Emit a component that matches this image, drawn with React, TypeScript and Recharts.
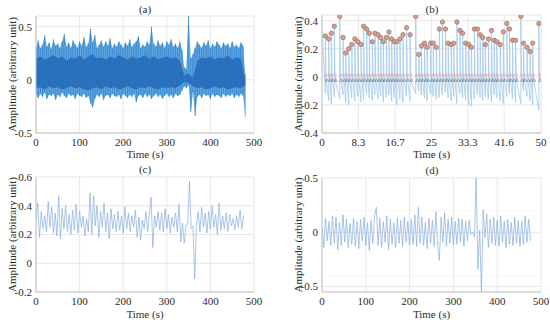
import React from 'react'
import {
  ComposedChart,
  Line,
  Area,
  Scatter,
  XAxis,
  YAxis,
  CartesianGrid,
} from 'recharts'

const FONT = '"Liberation Serif", "Times New Roman", serif'
const INK = '#2b2b2b'
const BOX = '#c4c4c4'
const GRID = '#e8e8e8'
const MINOR = '#f1f1f1'

// (a) raw recording: outer envelope every 5 s, dense core every 10 s
const timeA = [
  0, 5, 10, 15, 20, 25, 30, 35, 40, 45,
  50, 55, 60, 65, 70, 75, 80, 85, 90, 95,
  100, 105, 110, 115, 120, 125, 130, 135, 140, 145,
  150, 155, 160, 165, 170, 175, 180, 185, 190, 195,
  200, 205, 210, 215, 220, 225, 230, 235, 240, 245,
  250, 255, 260, 265, 270, 275, 280, 285, 290, 295,
  300, 305, 310, 315, 320, 325, 330, 335, 340, 345,
  350, 355, 360, 365, 370, 375, 380, 385, 390, 395,
  400, 405, 410, 415, 420, 425, 430, 435, 440, 445,
  450, 455, 460, 465, 470, 475, 480,
]
const rawHigh = [
  0.30, 0.37, 0.30, 0.33, 0.42, 0.31, 0.35, 0.29, 0.38, 0.32,
  0.34, 0.30, 0.36, 0.43, 0.31, 0.35, 0.30, 0.37, 0.33, 0.30,
  0.36, 0.32, 0.40, 0.31, 0.34, 0.48, 0.35, 0.42, 0.30, 0.33,
  0.37, 0.31, 0.36, 0.32, 0.39, 0.30, 0.34, 0.31, 0.36, 0.33,
  0.30, 0.35, 0.32, 0.38, 0.31, 0.34, 0.36, 0.41, 0.30, 0.33,
  0.31, 0.36, 0.33, 0.50, 0.34, 0.31, 0.37, 0.32, 0.35, 0.30,
  0.36, 0.33, 0.38, 0.31, 0.34, 0.30, 0.36, 0.28, 0.12, 0.10,
  0.60, 0.20, 0.24, 0.30, 0.36, 0.33, 0.30, 0.35, 0.32, 0.37,
  0.30, 0.34, 0.31, 0.36, 0.33, 0.30, 0.35, 0.32, 0.34, 0.30,
  0.36, 0.31, 0.33, 0.30, 0.35, 0.32, 0.05,
]
const rawLow = [
  -0.14, -0.17, -0.13, -0.16, -0.12, -0.18, -0.14, -0.15, -0.13, -0.19,
  -0.14, -0.16, -0.12, -0.15, -0.17, -0.13, -0.15, -0.14, -0.18, -0.13,
  -0.15, -0.16, -0.13, -0.17, -0.15, -0.22, -0.26, -0.18, -0.14, -0.16,
  -0.13, -0.19, -0.15, -0.14, -0.17, -0.13, -0.15, -0.16, -0.14, -0.18,
  -0.13, -0.15, -0.17, -0.14, -0.16, -0.13, -0.21, -0.15, -0.14, -0.17,
  -0.13, -0.16, -0.14, -0.18, -0.15, -0.13, -0.16, -0.14, -0.18, -0.15,
  -0.13, -0.16, -0.14, -0.17, -0.13, -0.15, -0.14, -0.10, -0.06, -0.08,
  -0.05, -0.30, -0.12, -0.34, -0.16, -0.14, -0.17, -0.13, -0.15, -0.14,
  -0.18, -0.13, -0.16, -0.14, -0.15, -0.17, -0.13, -0.16, -0.14, -0.15,
  -0.13, -0.17, -0.14, -0.16, -0.13, -0.15, -0.35,
]
const coreTime = [
  0, 10, 20, 30, 40, 50, 60, 70, 80, 90,
  100, 110, 120, 130, 140, 150, 160, 170, 180, 190,
  200, 210, 220, 230, 240, 250, 260, 270, 280, 290,
  300, 310, 320, 330, 340, 350, 360, 370, 380, 390,
  400, 410, 420, 430, 440, 450, 460, 470, 480,
]
const coreHigh = [
  0.20, 0.22, 0.19, 0.21, 0.23, 0.20, 0.22, 0.18, 0.21, 0.20,
  0.23, 0.19, 0.22, 0.24, 0.20, 0.21, 0.19, 0.22, 0.20, 0.23,
  0.21, 0.19, 0.22, 0.20, 0.21, 0.23, 0.20, 0.22, 0.19, 0.21,
  0.22, 0.20, 0.21, 0.18, 0.04, 0.06, 0.02, 0.18, 0.21, 0.20,
  0.22, 0.19, 0.21, 0.20, 0.23, 0.19, 0.21, 0.20, 0.00,
]
const coreLow = [
  -0.08, -0.07, -0.09, -0.06, -0.08, -0.07, -0.09, -0.08, -0.06, -0.08,
  -0.07, -0.09, -0.10, -0.08, -0.07, -0.09, -0.06, -0.08, -0.07, -0.09,
  -0.08, -0.06, -0.08, -0.09, -0.07, -0.08, -0.06, -0.08, -0.09, -0.07,
  -0.08, -0.07, -0.08, -0.05, -0.02, -0.03, -0.06, -0.08, -0.07, -0.09,
  -0.08, -0.06, -0.08, -0.07, -0.09, -0.08, -0.07, -0.08, -0.05,
]

// (b) first 50 s: beat times, detected peaks, and the low point before each rise
const beatTime = [
  0.76, 1.53, 2.14, 2.82, 4.05, 4.81, 5.42, 6.1, 6.8, 7.5,
  8.2, 8.9, 9.5, 10.2, 10.8, 11.5, 12.1, 12.8, 13.4, 14.0,
  14.7, 15.3, 15.9, 16.5, 17.1, 17.8, 18.5, 19.3, 20.1, 21.4,
  22.1, 22.7, 23.4, 24.0, 24.8, 25.4, 26.1, 26.8, 27.5, 28.2,
  28.8, 29.5, 30.1, 30.8, 31.5, 32.1, 32.8, 33.5, 34.1, 34.8,
  35.5, 36.1, 36.7, 37.3, 38.0, 38.7, 39.3, 39.9, 40.7, 41.4,
  42.2, 42.8, 43.5, 44.2, 45.4, 46.0, 46.8, 47.5, 48.1, 49.5,
]
const beatPeak = [
  0.29, 0.27, 0.31, 0.36, 0.43, 0.28, 0.17, 0.20, 0.23, 0.27,
  0.25, 0.23, 0.36, 0.34, 0.31, 0.25, 0.31, 0.30, 0.28, 0.25,
  0.28, 0.32, 0.27, 0.25, 0.25, 0.27, 0.30, 0.35, 0.30, 0.43,
  0.16, 0.22, 0.24, 0.21, 0.24, 0.24, 0.21, 0.34, 0.39, 0.34,
  0.24, 0.23, 0.24, 0.39, 0.33, 0.31, 0.24, 0.23, 0.21, 0.34,
  0.34, 0.30, 0.28, 0.23, 0.27, 0.33, 0.26, 0.25, 0.23, 0.32,
  0.38, 0.34, 0.26, 0.26, 0.43, 0.24, 0.21, 0.18, 0.24, 0.38,
]
const beatTrough = [
  -0.12, -0.17, -0.19, -0.14, -0.16, -0.13, -0.18, -0.20, -0.15, -0.17,
  -0.14, -0.18, -0.16, -0.12, -0.15, -0.17, -0.13, -0.16, -0.14, -0.18,
  -0.15, -0.13, -0.17, -0.15, -0.20, -0.16, -0.18, -0.14, -0.17, -0.12,
  -0.10, -0.13, -0.15, -0.17, -0.12, -0.14, -0.16, -0.15, -0.13, -0.11,
  -0.15, -0.17, -0.14, -0.19, -0.12, -0.15, -0.17, -0.20, -0.21, -0.16,
  -0.13, -0.15, -0.17, -0.14, -0.16, -0.18, -0.13, -0.15, -0.17, -0.19,
  -0.14, -0.12, -0.16, -0.18, -0.19, -0.10, -0.14, -0.17, -0.20, -0.24,
]
const startValue = 0.34
const onsetLevel = 0.012
const footLevel = -0.024

// (c) filtered and (d) detrended, every 4 s
const timeCD = [
  0, 4, 8, 12, 16, 20, 24, 28, 32, 36,
  40, 44, 48, 52, 56, 60, 64, 68, 72, 76,
  80, 84, 88, 92, 96, 100, 104, 108, 112, 116,
  120, 124, 128, 132, 136, 140, 144, 148, 152, 156,
  160, 164, 168, 172, 176, 180, 184, 188, 192, 196,
  200, 204, 208, 212, 216, 220, 224, 228, 232, 236,
  240, 244, 248, 252, 256, 260, 264, 268, 272, 276,
  280, 284, 288, 292, 296, 300, 304, 308, 312, 316,
  320, 324, 328, 332, 336, 340, 344, 348, 352, 356,
  360, 364, 368, 372, 376, 380, 384, 388, 392, 396,
  400, 404, 408, 412, 416, 420, 424, 428, 432, 436,
  440, 444, 448, 452, 456, 460, 464, 468, 472, 476,
]
const filtered = [
  0.30, 0.42, 0.18, 0.36, 0.24, 0.33, 0.22, 0.43, 0.25, 0.39,
  0.21, 0.35, 0.19, 0.47, 0.17, 0.38, 0.24, 0.40, 0.22, 0.34,
  0.20, 0.37, 0.23, 0.41, 0.21, 0.36, 0.25, 0.33, 0.19, 0.31,
  0.22, 0.49, 0.20, 0.47, 0.26, 0.40, 0.18, 0.36, 0.25, 0.42,
  0.22, 0.35, 0.17, 0.38, 0.24, 0.34, 0.22, 0.36, 0.23, 0.33,
  0.21, 0.39, 0.24, 0.35, 0.22, 0.33, 0.25, 0.37, 0.18, 0.32,
  0.16, 0.30, 0.24, 0.36, 0.22, 0.34, 0.46, 0.11, 0.33, 0.25,
  0.36, 0.23, 0.35, 0.22, 0.38, 0.24, 0.34, 0.21, 0.32, 0.25,
  0.35, 0.22, 0.41, 0.15, 0.28, 0.14, 0.26, 0.28, 0.57, 0.24,
  0.26, -0.11, 0.27, 0.36, 0.22, 0.39, 0.25, 0.35, 0.21, 0.36,
  0.24, 0.40, 0.25, 0.34, 0.20, 0.42, 0.23, 0.33, 0.24, 0.35,
  0.22, 0.34, 0.26, 0.31, 0.23, 0.33, 0.25, 0.37, 0.24, 0.33,
]
const detrended = [
  0.05, -0.14, 0.13, -0.08, 0.10, -0.12, 0.15, -0.10, 0.14, -0.16,
  0.09, -0.12, 0.16, -0.09, 0.12, -0.14, 0.08, -0.11, 0.13, -0.13,
  0.10, -0.15, 0.12, -0.08, 0.14, -0.12, 0.09, -0.17, 0.11, -0.10,
  0.15, 0.23, -0.12, 0.13, -0.14, 0.10, -0.09, 0.15, -0.16, 0.12,
  -0.11, 0.09, -0.14, 0.13, -0.10, 0.11, -0.13, 0.14, -0.09, 0.10,
  -0.12, 0.12, -0.11, 0.16, -0.13, 0.23, -0.10, 0.14, -0.12, 0.09,
  -0.15, 0.13, -0.10, 0.11, -0.13, 0.19, -0.12, -0.26, 0.14, -0.09,
  0.18, -0.13, 0.12, -0.10, 0.14, -0.12, 0.10, -0.11, 0.13, -0.09,
  0.12, -0.13, 0.10, -0.08, 0.11, -0.02, 0.00, -0.04, 0.50, -0.34,
  0.02, -0.55, 0.21, -0.05, 0.17, -0.14, 0.12, -0.10, 0.14, -0.12,
  0.11, -0.13, 0.15, -0.09, 0.10, -0.14, 0.12, -0.11, 0.09, -0.12,
  0.14, -0.10, 0.11, -0.13, 0.10, -0.11, 0.15, -0.09, 0.12, -0.08,
]

const secondsTicks = [0, 100, 200, 300, 400, 500]
const windowTicks = [0, 8.3, 16.7, 25, 33.3, 41.6, 50]
const minorSeconds = [
  0, 20, 40, 60, 80, 100, 120, 140, 160, 180, 200, 220, 240,
  260, 280, 300, 320, 340, 360, 380, 400, 420, 440, 460, 480, 500,
]
const minorWindow = [
  0, 1.66, 3.32, 4.98, 6.64, 8.3, 10.0, 11.7, 13.3, 15.0, 16.7, 18.4, 20.0,
  21.7, 23.3, 25, 26.7, 28.3, 30.0, 31.6, 33.3, 35.0, 36.6, 38.3, 40.0, 41.6,
  43.3, 45.0, 46.7, 48.3, 50,
]

const rawEnvelope = timeA.map((t, i) => ({ t, range: [rawLow[i], rawHigh[i]] }))
const rawCore = coreTime.map((t, i) => ({ t, range: [coreLow[i], coreHigh[i]] }))
const rawTrace = timeA.flatMap((t, i) => [
  { t, v: rawHigh[i] },
  { t, v: rawLow[i] },
])

const windowWave: { t: number; v: number }[] = [{ t: 0, v: startValue }]
beatTime.forEach((t, i) => {
  windowWave.push(
    { t, v: beatTrough[i] },
    { t, v: beatPeak[i] },
    { t: t + 0.15, v: onsetLevel },
    { t: t + 0.3, v: -0.04 },
  )
})
const peakPoints = beatTime.map((t, i) => ({ t, v: beatPeak[i] }))
const onsetPoints = beatTime.map((t) => ({ t: t + 0.22, v: onsetLevel }))
const footPoints = beatTime.map((t) => ({ t: t + 0.34, v: footLevel }))

const filteredData = timeCD.map((t, i) => ({ t, v: filtered[i] }))
const detrendedData = timeCD.map((t, i) => ({ t, v: detrended[i] }))

const textStyle = { fontSize: 11, fill: INK, fontFamily: FONT, stroke: 'none', fontWeight: 400 }

function frame(
  xDomain: [number, number],
  xTicks: number[],
  xMinor: number[],
  yDomain: [number, number],
  yTicks: number[],
  yMinor: number[],
  xHeight: number,
) {
  return [
    <XAxis
      key="xm"
      xAxisId="minor"
      type="number"
      domain={xDomain}
      ticks={xMinor}
      allowDataOverflow
      hide
    />,
    <YAxis
      key="ym"
      yAxisId="minor"
      type="number"
      domain={yDomain}
      ticks={yMinor}
      allowDataOverflow
      hide
    />,
    <CartesianGrid key="gm" xAxisId="minor" yAxisId="minor" stroke={MINOR} strokeDasharray="1 1" />,
    <CartesianGrid key="grid" stroke={GRID} />,
    <XAxis
      key="x"
      dataKey="t"
      type="number"
      domain={xDomain}
      ticks={xTicks}
      allowDataOverflow
      height={xHeight}
      tick={textStyle}
      tickSize={0}
      tickMargin={5}
      axisLine={{ stroke: BOX }}
      tickFormatter={(v: number) => `${v}`}
      label={{
        value: 'Time (s)',
        position: 'insideBottom',
        offset: 2,
        style: textStyle,
      }}
    />,
    <XAxis
      key="xt"
      xAxisId="top"
      orientation="top"
      type="number"
      domain={xDomain}
      height={0}
      tick={false}
      tickLine={false}
      axisLine={{ stroke: BOX }}
    />,
    <YAxis
      key="y"
      type="number"
      domain={yDomain}
      ticks={yTicks}
      allowDataOverflow
      width={30}
      tick={textStyle}
      tickSize={0}
      tickMargin={4}
      axisLine={{ stroke: BOX }}
      label={{
        value: 'Amplitude (arbitrary unit)',
        angle: -90,
        position: 'insideLeft',
        offset: 6,
        style: { ...textStyle, textAnchor: 'middle' },
      }}
    />,
    <YAxis
      key="yr"
      yAxisId="right"
      orientation="right"
      type="number"
      domain={yDomain}
      width={0}
      tick={false}
      tickLine={false}
      axisLine={{ stroke: BOX }}
    />,
  ]
}

function Title({ text, x, y }: { text: string; x: number; y: number }) {
  return (
    <div
      style={{
        position: 'absolute',
        left: x - 20,
        top: y - 7,
        width: 40,
        textAlign: 'center',
        font: `11px ${FONT}`,
        lineHeight: '14px',
        color: INK,
      }}
    >
      {text}
    </div>
  )
}

const dotShape = (fill: string, stroke: string, r: number) => (p: any) => (
  <circle cx={p.cx} cy={p.cy} r={r} fill={fill} stroke={stroke} strokeWidth={0.6} />
)
const triShape = (p: any) => (
  <path
    d={`M${p.cx},${p.cy - 1.6}L${p.cx + 1.5},${p.cy + 1.1}L${p.cx - 1.5},${p.cy + 1.1}Z`}
    fill="none"
    stroke="#666"
    strokeWidth={0.5}
  />
)

export default function App() {
  return (
    <div
      style={{
        position: 'absolute',
        left: 0,
        top: 0,
        width: 550,
        height: 320,
        background: '#fff',
        fontFamily: FONT,
      }}
    >
      <style>{`.recharts-text, .recharts-label { font-family: ${FONT} !important; font-weight: 400 !important; stroke: none !important; }`}</style>

      <div style={{ position: 'absolute', left: 0, top: 0 }}>
        <ComposedChart width={280} height={160} margin={{ top: 16, right: 26, left: 6, bottom: 0 }}>
          {frame([0, 500], secondsTicks, minorSeconds, [-0.5, 0.6], [-0.5, 0, 0.5], [-0.5, -0.4, -0.3, -0.2, -0.1, 0, 0.1, 0.2, 0.3, 0.4, 0.5, 0.6], 27)}
          <Area
            data={rawEnvelope}
            dataKey="range"
            type="linear"
            stroke="none"
            fill="#3f95d9"
            fillOpacity={0.8}
            isAnimationActive={false}
          />
          <Line
            data={rawTrace}
            dataKey="v"
            type="linear"
            stroke="#2f80cc"
            strokeWidth={0.5}
            dot={false}
            isAnimationActive={false}
          />
          <Area
            data={rawCore}
            dataKey="range"
            type="linear"
            stroke="none"
            fill="#1d5aa8"
            fillOpacity={0.85}
            isAnimationActive={false}
          />
        </ComposedChart>
      </div>

      <div style={{ position: 'absolute', left: 280, top: 0 }}>
        <ComposedChart width={270} height={160} margin={{ top: 15, right: 9, left: 12, bottom: 0 }}>
          {frame([0, 50], windowTicks, minorWindow, [-0.4, 0.44], [-0.4, -0.2, 0, 0.2, 0.4], [-0.4, -0.3, -0.2, -0.1, 0, 0.1, 0.2, 0.3, 0.4], 27)}
          <Line
            data={windowWave}
            dataKey="v"
            type="linear"
            stroke="#a3c9ec"
            strokeWidth={0.8}
            dot={false}
            isAnimationActive={false}
          />
          <Scatter data={onsetPoints} dataKey="v" shape={dotShape('none', '#e0a0a0', 1.2)} isAnimationActive={false} />
          <Scatter data={footPoints} dataKey="v" shape={triShape} isAnimationActive={false} />
          <Scatter data={peakPoints} dataKey="v" shape={dotShape('#e39a88', '#7a6a62', 2.2)} isAnimationActive={false} />
        </ComposedChart>
      </div>

      <div style={{ position: 'absolute', left: 0, top: 160 }}>
        <ComposedChart width={280} height={160} margin={{ top: 17, right: 26, left: 6, bottom: 0 }}>
          {frame([0, 500], secondsTicks, minorSeconds, [-0.2, 0.6], [-0.2, 0, 0.2, 0.4, 0.6], [-0.2, -0.1, 0, 0.1, 0.2, 0.3, 0.4, 0.5, 0.6], 28)}
          <Line
            data={filteredData}
            dataKey="v"
            type="linear"
            stroke="#86ade0"
            strokeWidth={0.7}
            dot={false}
            isAnimationActive={false}
          />
        </ComposedChart>
      </div>

      <div style={{ position: 'absolute', left: 280, top: 160 }}>
        <ComposedChart width={270} height={160} margin={{ top: 18, right: 9, left: 12, bottom: 0 }}>
          {frame([0, 500], secondsTicks, minorSeconds, [-0.55, 0.5], [-0.5, 0, 0.5], [-0.5, -0.4, -0.3, -0.2, -0.1, 0, 0.1, 0.2, 0.3, 0.4, 0.5], 28)}
          <Line
            data={detrendedData}
            dataKey="v"
            type="linear"
            stroke="#86ade0"
            strokeWidth={0.7}
            dot={false}
            isAnimationActive={false}
          />
        </ComposedChart>
      </div>

      <Title text="(a)" x={145} y={9} />
      <Title text="(b)" x={432} y={9} />
      <Title text="(c)" x={145} y={169} />
      <Title text="(d)" x={432} y={170} />
    </div>
  )
}
